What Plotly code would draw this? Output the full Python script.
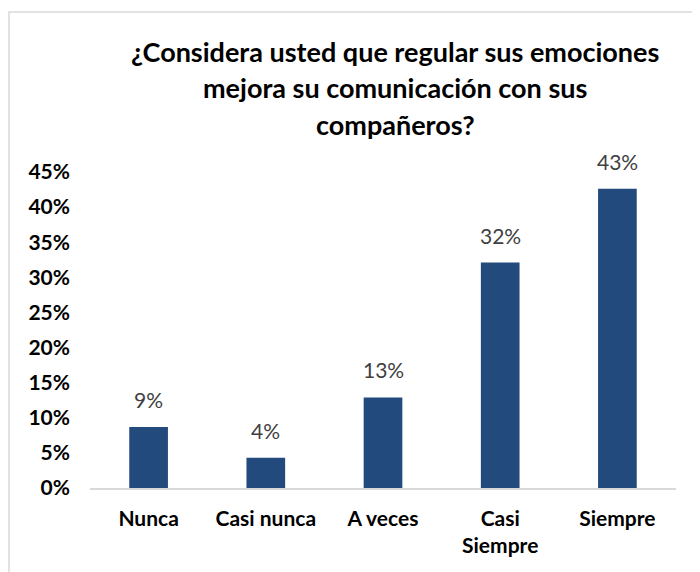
import plotly.graph_objects as go

# Survey answers (share of respondents)
categories = ["Nunca", "Casi nunca", "A veces", "Casi<br>Siempre", "Siempre"]
values = [0.087, 0.043, 0.129, 0.321, 0.426]
labels = ["9%", "4%", "13%", "32%", "43%"]
title_lines = [
    "¿Considera usted que regular sus emociones",
    "mejora su comunicación con sus",
    "compañeros?",
]
tick_vals = [0, 0.05, 0.10, 0.15, 0.20, 0.25, 0.30, 0.35, 0.40, 0.45]
tick_text = ["0%", "5%", "10%", "15%", "20%", "25%", "30%", "35%", "40%", "45%"]

font_family = "Lato, 'Open Sans', sans-serif"
bar_color = "#224A7C"

# plot area in figure pixels: left 82, right 668, top 164, bottom 480
L, R, T, B = 82, 32, 164, 92
PW, PH = 700 - L - R, 572 - T - B


def px(x):
    return (x - L) / PW


def py(y):
    return (572 - B - y) / PH


fig = go.Figure(
    go.Bar(
        x=categories,
        y=values,
        marker=dict(color=bar_color, line=dict(width=0)),
        hoverinfo="skip",
    )
)

# Data labels above the bars
for cat, val, lab in zip(categories, values, labels):
    fig.add_annotation(
        x=cat, y=val, text=lab, showarrow=False,
        yanchor="bottom", yshift=13,
        font=dict(family=font_family, size=21, color="#404040"),
    )

# Title, one line at a time to match the spacing
for i, line in enumerate(title_lines):
    fig.add_annotation(
        xref="paper", yref="paper",
        x=px(387), y=py(44 + 36 * i),
        text="<b>" + line + "</b>", showarrow=False,
        xanchor="center", yanchor="middle",
        font=dict(family=font_family, size=27, color="#000000"),
    )

# Light chart border
fig.add_shape(
    type="rect", xref="paper", yref="paper",
    x0=px(1), x1=px(690), y0=py(640), y1=py(4),
    line=dict(color="#D9D9D9", width=1.5),
    fillcolor="rgba(0,0,0,0)", layer="below",
)

fig.update_layout(
    width=700, height=572,
    margin=dict(l=L, r=R, t=T, b=B),
    paper_bgcolor="white", plot_bgcolor="white",
    bargap=0.67, showlegend=False,
    font=dict(family=font_family, color="#000000"),
)

fig.update_yaxes(
    range=[0, 0.45], tickvals=tick_vals,
    ticktext=["<b>" + t + "</b>" for t in tick_text],
    tickfont=dict(size=21, color="#000000"),
    showgrid=False, zeroline=False, showline=False,
    ticks="", ticklabelstandoff=19,
)
fig.update_xaxes(
    tickfont=dict(size=21, color="#000000"),
    ticktext=["<b>" + c + "</b>" for c in categories],
    tickvals=categories,
    showline=True, linecolor="#D9D9D9", linewidth=1.5,
    showgrid=False, ticks="", ticklabelstandoff=11,
)

fig.write_html("out.html")
